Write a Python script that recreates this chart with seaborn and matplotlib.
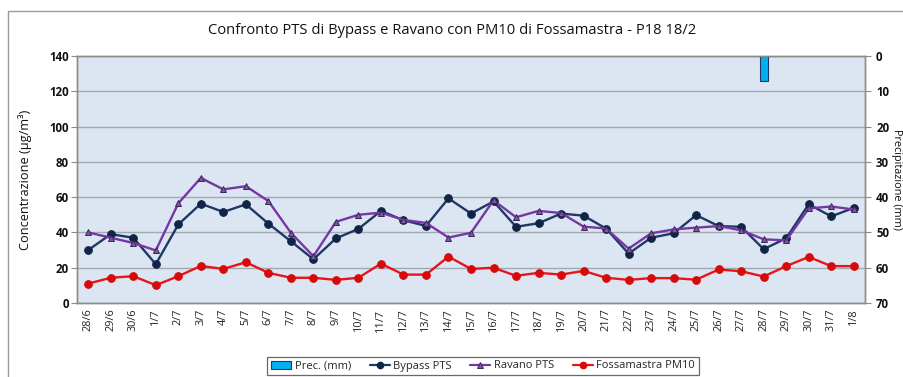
import numpy as np
import pandas as pd
import matplotlib
matplotlib.use("Agg")
import matplotlib.pyplot as plt
import matplotlib.patches as mpatches
from matplotlib.lines import Line2D
import seaborn as sns

# Daily dates from 28 June to 1 August
dates = ["28/6", "29/6", "30/6"] + [f"{d}/7" for d in range(1, 32)] + ["1/8"]

bypass_pts = [30, 39, 37, 22, 44.5, 56.3, 51.6, 55.9, 45, 35, 24.8, 36.6, 42, 52.2,
              46.9, 43.7, 59.3, 50.7, 57.6, 43.2, 45.2, 50.7, 49.5, 42.2, 28, 37,
              39.5, 49.8, 43.6, 43.2, 30.5, 36.7, 56, 49.1, 53.9]
ravano_pts = [40, 37, 34, 29.8, 56.5, 70.9, 64.4, 66.2, 57.8, 39.8, 26.5, 46, 50, 51.2,
              47.1, 45.4, 37.1, 39.8, 58.2, 48.6, 52.2, 51, 43.3, 42.2, 30.8, 39.5,
              41.7, 42.7, 43.6, 41.2, 36.1, 35.5, 53.6, 54.7, 53]
fossamastra_pm10 = [11, 14.3, 15.2, 10.1, 15.2, 21, 19.3, 23.1, 17.1, 14.3, 14.3, 13.1,
                    14.3, 22.3, 16.1, 16.1, 26.3, 19.3, 20, 15.4, 17.1, 16.1, 18.2, 14.3,
                    13.1, 14.1, 14.1, 13.2, 19, 18, 15, 20.9, 26.1, 20.9, 20.9]
precip_mm = [np.nan] * 30 + [7] + [np.nan] * 4

left_ticks = [0, 20, 40, 60, 80, 100, 120, 140]
right_ticks = [0, 10, 20, 30, 40, 50, 60, 70]

sns.set_style("white")
plt.rcParams["font.family"] = ["Open Sans", "DejaVu Sans"]

W, H = 904, 377
fig = plt.figure(figsize=(W / 100, H / 100), dpi=100)
ax = fig.add_axes([77 / W, 1 - 303 / H, (865 - 77) / W, (303 - 56) / H])
ax.set_facecolor("#dce6f2")

x = np.arange(len(dates))
df = pd.DataFrame({"pos": x, "Bypass PTS": bypass_pts, "Ravano PTS": ravano_pts,
                   "Fossamastra PM10": fossamastra_pm10})

c_bypass, c_bypass_m = "#1f3864", "#0f2447"
c_ravano, c_ravano_m = "#7636a6", "#7a5a9e"
c_fossa, c_fossa_m = "#e8131b", "#d60a0a"

sns.lineplot(data=df, x="pos", y="Bypass PTS", ax=ax, color=c_bypass, lw=1.7,
             marker="o", markersize=5.5, markerfacecolor=c_bypass_m,
             markeredgecolor=c_bypass_m, zorder=4)
sns.lineplot(data=df, x="pos", y="Ravano PTS", ax=ax, color=c_ravano, lw=1.7,
             marker="^", markersize=5, markerfacecolor=c_ravano_m,
             markeredgecolor="#3d2458", markeredgewidth=0.7, zorder=5)
sns.lineplot(data=df, x="pos", y="Fossamastra PM10", ax=ax, color=c_fossa, lw=1.7,
             marker="o", markersize=5.5, markerfacecolor=c_fossa_m,
             markeredgecolor=c_fossa_m, zorder=4)

ax.set_ylim(0, 140)
ax.set_yticks(left_ticks)
ax.set_yticklabels([str(t) for t in left_ticks], fontsize=8.3, fontweight="bold", color="#111111")
ax.set_xlim(-0.5, len(dates) - 0.5)
ax.set_xticks(x)
ax.set_xticklabels(dates, rotation=90, fontsize=7.8, color="#222222")
ax.set_xticks(np.arange(-0.5, len(dates), 1.0), minor=True)
ax.tick_params(axis="x", which="major", length=0, pad=4)
ax.tick_params(axis="x", which="minor", length=4, color="#8c8c8c", width=0.8)
ax.tick_params(axis="y", length=4, color="#8c8c8c", width=0.8, pad=2, left=True)
ax.grid(axis="y", color="#a3a9b0", lw=1)
ax.grid(axis="x", visible=False)
ax.set_xlabel("")
ax.set_ylabel("Concentrazione (µg/m³)", fontsize=9.2, color="#111111", labelpad=12)
for s in ax.spines.values():
    s.set_color("#8c8c8c")
    s.set_linewidth(1)

# Rainfall on the secondary axis, inverted from the top
ax2 = ax.twinx()
sns.barplot(x=x, y=precip_mm, ax=ax2, native_scale=True, width=0.37,
            color="#00b0f0", edgecolor="#1f3864", linewidth=0.8, saturation=1)
ax2.set_ylim(70, 0)
ax2.set_yticks(right_ticks)
ax2.set_yticklabels([str(t) for t in right_ticks], fontsize=8.3, fontweight="bold", color="#111111")
ax2.tick_params(axis="y", length=4, color="#8c8c8c", width=0.8, pad=4, right=True)
ax2.set_xlim(-0.5, len(dates) - 0.5)
ax2.set_xticks(x)
ax2.set_xticklabels(dates, rotation=90, fontsize=7.8, color="#222222")
ax2.tick_params(axis="x", which="major", length=0, pad=4)
ax2.set_xlabel("")
ax2.set_ylabel("Precipitazione (mm)", fontsize=7.8, color="#111111", rotation=270, va="center")
ax2.yaxis.set_label_coords((896.5 - 77) / (865 - 77), 0.5)
ax2.grid(False)
for s in ax2.spines.values():
    s.set_color("#8c8c8c")
    s.set_linewidth(1)

fig.text(452 / W, 1 - 30 / H, "Confronto PTS di Bypass e Ravano con PM10 di Fossamastra - P18 18/2",
         ha="center", va="center", fontsize=10.6, color="#111111")

# Outer frame of the chart area
frame = mpatches.Rectangle((8 / W, -0.2), 1.2, 1 - 11 / H + 0.2, transform=fig.transFigure,
                           fill=False, edgecolor="#9a9a9a", lw=1, clip_on=False)
fig.patches.append(frame)

handles = [
    mpatches.Patch(facecolor="#00b0f0", edgecolor="#1f3864", lw=0.8),
    Line2D([], [], color=c_bypass, lw=1.6, marker="o", markersize=4.5,
           markerfacecolor=c_bypass_m, markeredgecolor=c_bypass_m),
    Line2D([], [], color=c_ravano, lw=1.6, marker="^", markersize=4.5,
           markerfacecolor=c_ravano_m, markeredgecolor="#3d2458", markeredgewidth=0.7),
    Line2D([], [], color=c_fossa, lw=1.6, marker="o", markersize=4.5,
           markerfacecolor=c_fossa_m, markeredgecolor=c_fossa_m),
]
labels = ["Prec. (mm)", "Bypass PTS", "Ravano PTS", "Fossamastra PM10"]
leg = fig.legend(handles, labels, loc="center", bbox_to_anchor=(483 / W, 1 - 366 / H),
                 ncol=4, fontsize=8, frameon=True, fancybox=False, handlelength=1.8,
                 handletextpad=0.3, columnspacing=1.7, borderpad=0.35,
                 handleheight=0.7)
leg.get_frame().set_edgecolor("#444444")
leg.get_frame().set_linewidth(0.9)

fig.savefig("out.png", dpi=100)
